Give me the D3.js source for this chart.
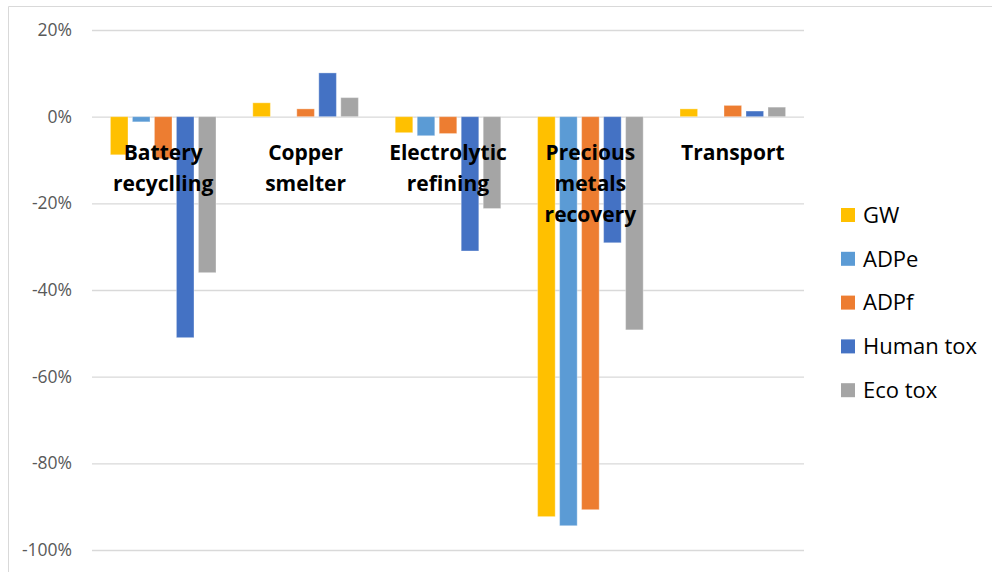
<!DOCTYPE html>
<html>
<head>
<meta charset="utf-8">
<script src="https://cdn.jsdelivr.net/npm/d3@7"></script>
<style>
  html, body { margin: 0; padding: 0; background: #fff; }
  svg { display: block; }
</style>
</head>
<body>
<svg id="chart" width="992" height="572"></svg>
<script>
// Process stages (categories) and the impact categories shown as series
const categories = [
  ["Battery", "recyclling"],
  ["Copper", "smelter"],
  ["Electrolytic", "refining"],
  ["Precious", "metals", "recovery"],
  ["Transport"]
];
const seriesNames = ["GW", "ADPe", "ADPf", "Human tox", "Eco tox"];
const seriesColors = ["#FFC000", "#5B9BD5", "#ED7D31", "#4472C4", "#A5A5A5"];

// Relative change (%) per stage, one array per impact category
const GW       = [-8.8,  3.2, -3.7, -92.3, 1.8];
const ADPe     = [-1.2,  0.0, -4.4, -94.4, 0.0];
const ADPf     = [-9.7,  1.8, -3.9, -90.7, 2.6];
const HumanTox = [-51.0, 10.1, -31.0, -29.1, 1.3];
const EcoTox   = [-36.0, 4.4, -21.2, -49.2, 2.2];
const seriesValues = [GW, ADPe, ADPf, HumanTox, EcoTox];

const yTicks = [20, 0, -20, -40, -60, -80, -100];

const svg = d3.select("#chart");
const font = "'Open Sans', Lato, sans-serif";

// chart frame
svg.append("path")
  .attr("d", "M8.5,572 V6.5 H992")
  .attr("fill", "none")
  .attr("stroke", "#d9d9d9")
  .attr("stroke-width", 1);

const plot = { left: 92, right: 804, top: 30, bottom: 550 };

const y = d3.scaleLinear().domain([-100, 20]).range([plot.bottom, plot.top]);
const x0 = d3.scaleBand()
  .domain(d3.range(categories.length))
  .range([plot.left, plot.right])
  .paddingInner(0).paddingOuter(0);
const x1 = d3.scaleBand()
  .domain(d3.range(seriesNames.length))
  .range([-55, 55])
  .paddingInner(0.2).paddingOuter(0.1);

// gridlines + y labels via axis
const yAxis = d3.axisLeft(y)
  .tickValues(yTicks)
  .tickFormat(d => d + "%")
  .tickSize(-(plot.right - plot.left))
  .tickPadding(20);

const gy = svg.append("g")
  .attr("transform", `translate(${plot.left},0)`)
  .call(yAxis);
gy.select(".domain").remove();
gy.selectAll(".tick line")
  .attr("stroke", "#d9d9d9")
  .attr("stroke-width", 1.3);
gy.selectAll(".tick text")
  .attr("fill", "#595959")
  .attr("font-family", font)
  .attr("font-size", "17.5px");

// bars
const groups = svg.append("g").selectAll("g")
  .data(seriesValues)
  .join("g")
  .attr("fill", (d, i) => seriesColors[i]);

groups.each(function(vals, si) {
  d3.select(this).selectAll("rect")
    .data(vals)
    .join("rect")
    .attr("x", (v, ci) => x0(ci) + x0.bandwidth() / 2 + x1(si))
    .attr("width", x1.bandwidth())
    .attr("y", v => y(Math.max(0, v)))
    .attr("height", v => Math.abs(y(v) - y(0)))
    .attr("stroke", "#ffffff")
    .attr("stroke-opacity", 0.35)
    .attr("stroke-width", 1);
});

// category labels, drawn just below the zero line
const labels = svg.append("g").selectAll("text")
  .data(categories)
  .join("text")
  .attr("x", (d, i) => x0(i) + x0.bandwidth() / 2)
  .attr("y", y(0) + 43)
  .attr("text-anchor", "middle")
  .attr("font-family", font)
  .attr("font-weight", "bold")
  .attr("font-size", "21px")
  .attr("fill", "#000");
labels.selectAll("tspan")
  .data(d => d)
  .join("tspan")
  .attr("x", function() { return d3.select(this.parentNode).attr("x"); })
  .attr("dy", (d, i) => i === 0 ? 0 : 31)
  .text(d => d);

// legend
const legend = svg.append("g").selectAll("g")
  .data(seriesNames)
  .join("g")
  .attr("transform", (d, i) => `translate(841,${215 + i * 43.8})`);
legend.append("rect")
  .attr("x", 0).attr("y", -7)
  .attr("width", 14).attr("height", 14)
  .attr("fill", (d, i) => seriesColors[i]);
legend.append("text")
  .attr("x", 22).attr("y", 0)
  .attr("dy", "0.35em")
  .attr("font-family", font)
  .attr("font-size", "22px")
  .attr("fill", "#000")
  .text(d => d);
</script>
</body>
</html>
